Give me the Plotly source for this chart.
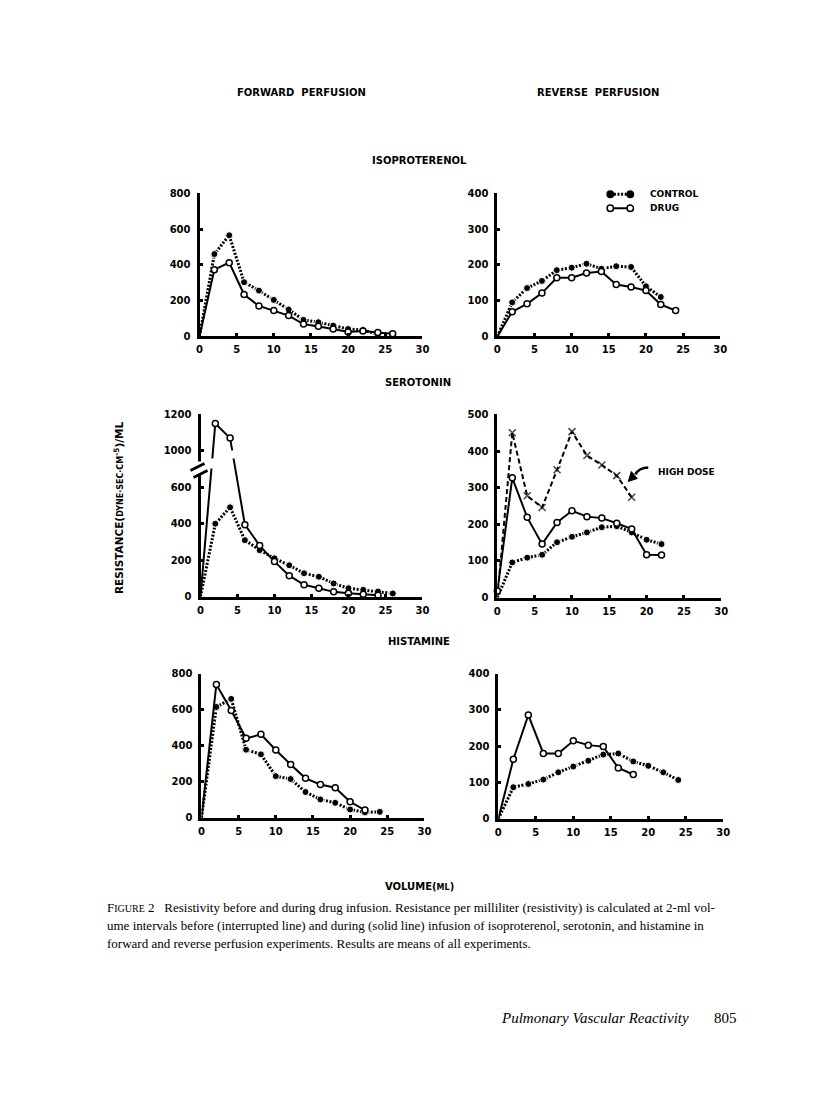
import plotly.graph_objects as go

# The page body has an 8px margin; the figure is kept small enough that the
# page never overflows the window. Positions below are given in the
# reference's pixel coordinates and mapped to the page with a small
# calibration (measured from earlier renders).
PAGE_OFF = 8
W, H = 800, 1076
CAL_A, CAL_BX, CAL_BY = 0.988, 1.5, 6.0

# ---------------- data ----------------
vol_iso_fwd_ctrl = [0, 2, 4, 6, 8, 10, 12, 14, 16, 18, 20, 22, 24]
iso_fwd_ctrl = [0, 460, 565, 303, 256, 204, 150, 92, 79, 60, 41, 35, 12]
vol_iso_fwd_drug = [0, 2, 4, 6, 8, 10, 12, 14, 16, 18, 20, 22, 24, 26]
iso_fwd_drug = [0, 373, 412, 234, 170, 144, 116, 69, 56, 41, 25, 30, 22, 15]

vol_iso_rev_ctrl = [0, 2, 4, 6, 8, 10, 12, 14, 16, 18, 20, 22]
iso_rev_ctrl = [0, 95, 135, 155, 185, 192, 203, 189, 196, 194, 140, 110]
vol_iso_rev_drug = [0, 2, 4, 6, 8, 10, 12, 14, 16, 18, 20, 22, 24]
iso_rev_drug = [0, 69, 91, 121, 164, 164, 177, 181, 145, 138, 128, 89, 72]

vol_ser_fwd_ctrl = [0, 2, 4, 6, 8, 10, 12, 14, 16, 18, 20, 22, 24, 26]
ser_fwd_ctrl = [0, 400, 490, 310, 255, 210, 172, 128, 109, 72, 46, 37, 28, 17]
vol_ser_fwd_drug = [0, 2, 4, 6, 8, 10, 12, 14, 16, 18, 20, 22, 24]
ser_fwd_drug = [0, 1150, 1070, 395, 280, 192, 115, 65, 46, 26, 19, 13, 7]

vol_ser_rev_ctrl = [0, 2, 4, 6, 8, 10, 12, 14, 16, 18, 20, 22]
ser_rev_ctrl = [0, 96, 109, 117, 151, 166, 178, 192, 195, 178, 158, 146]
vol_ser_rev_drug = [0, 2, 4, 6, 8, 10, 12, 14, 16, 18, 20, 22]
ser_rev_drug = [18, 327, 219, 146, 205, 237, 221, 217, 203, 187, 117, 116]
vol_ser_rev_high = [0, 2, 4, 6, 8, 10, 12, 14, 16, 18]
ser_rev_high = [0, 450, 278, 246, 349, 453, 388, 362, 333, 274]

vol_his_fwd_ctrl = [0, 2, 4, 6, 8, 10, 12, 14, 16, 18, 20, 22, 24]
his_fwd_ctrl = [0, 615, 660, 378, 352, 231, 215, 143, 102, 83, 46, 30, 33]
vol_his_fwd_drug = [0, 2, 4, 6, 8, 10, 12, 14, 16, 18, 20, 22]
his_fwd_drug = [0, 740, 595, 441, 463, 376, 296, 219, 185, 167, 89, 43]

vol_his_rev_ctrl = [0, 2, 4, 6, 8, 10, 12, 14, 16, 18, 20, 22, 24]
his_rev_ctrl = [0, 87, 96, 108, 128, 144, 160, 177, 180, 158, 146, 128, 107]
vol_his_rev_drug = [0, 2, 4, 6, 8, 10, 12, 14, 16, 18]
his_rev_drug = [0, 164, 286, 180, 180, 215, 203, 199, 140, 122]

x_ticks = [0, 5, 10, 15, 20, 25, 30]
y_ticks_800 = [0, 200, 400, 600, 800]
y_ticks_400 = [0, 100, 200, 300, 400]
y_ticks_500 = [0, 100, 200, 300, 400, 500]
ser_fwd_tickvals = [0, 200, 400, 600, 800, 1000]
ser_fwd_ticktext = ["0", "200", "400", "600", "1000", "1200"]
BREAK_SHIFT = 200  # values above the axis break are drawn 200 lower


def broken(v):
    return [y - BREAK_SHIFT if y > 800 else y for y in v]


# ---------------- layout helpers ----------------
def fx(x):
    page = (x - CAL_BX) / CAL_A
    return (page - PAGE_OFF) / W


def fy(y):
    page = (y - CAL_BY) / CAL_A
    return 1 - (page - PAGE_OFF) / H


# panel pixel boxes: (x at 0, x at 30, y at 0, y at top)
panels = [
    (198, 421, 336, 193, 800, y_ticks_800, None),
    (496, 719, 336, 193, 400, y_ticks_400, None),
    (199, 421, 596, 414, 1000, ser_fwd_tickvals, ser_fwd_ticktext),
    (496, 720, 597, 414, 500, y_ticks_500, None),
    (200, 423, 817, 673, 800, y_ticks_800, None),
    (497, 722, 818, 673, 400, y_ticks_400, None),
]

fig = go.Figure()
tickfont = dict(family="DejaVu Sans", size=10, color="black", weight="bold")
layout = dict()
for i, (x0, x1, y0, y1, ymax, yt, ytt) in enumerate(panels, start=1):
    sx = "" if i == 1 else str(i)
    layout["xaxis" + sx] = dict(
        domain=[fx(x0), fx(x1)], range=[0, 30], anchor="y" + sx,
        showline=True, linewidth=3, linecolor="black", showgrid=False, zeroline=False,
        tickvals=x_ticks, ticks="inside", ticklen=3, tickwidth=3, tickcolor="black",
        tickfont=tickfont, ticklabelstandoff=2,
    )
    ydict = dict(
        domain=[fy(y0), fy(y1)], range=[0, ymax], anchor="x" + sx,
        showline=True, linewidth=3, linecolor="black", showgrid=False, zeroline=False,
        tickvals=yt, ticks="inside", ticklen=3, tickwidth=3, tickcolor="black",
        tickfont=tickfont, ticklabelstandoff=4,
    )
    if ytt is not None:
        ydict["ticktext"] = ytt
    layout["yaxis" + sx] = ydict


def add(i, xs, ys, kind):
    sx = "" if i == 1 else str(i)
    sizes = [6] * len(xs)
    if ys[0] == 0:
        sizes[0] = 0
    if kind == "ctrl":
        line = dict(color="black", width=3, dash="2px,1.6px")
        marker = dict(symbol="circle", size=[s + 1 if s else 0 for s in sizes], color="black",
                      opacity=1)
    elif kind == "drug":
        line = dict(color="black", width=2)
        marker = dict(symbol="circle", size=sizes, color="#ffffff", opacity=1,
                      line=dict(color="black", width=1.5))
    else:
        line = dict(color="black", width=2, dash="5px,3px")
        marker = dict(symbol="x-thin", size=[0] + [7] * (len(xs) - 1),
                      line=dict(color="black", width=1.6))
    fig.add_trace(go.Scatter(x=xs, y=ys, mode="lines+markers", line=line, marker=marker,
                             xaxis="x" + sx, yaxis="y" + sx, cliponaxis=False,
                             showlegend=False, hoverinfo="skip"))


add(1, vol_iso_fwd_ctrl, iso_fwd_ctrl, "ctrl")
add(1, vol_iso_fwd_drug, iso_fwd_drug, "drug")
add(2, vol_iso_rev_ctrl, iso_rev_ctrl, "ctrl")
add(2, vol_iso_rev_drug, iso_rev_drug, "drug")
add(3, vol_ser_fwd_ctrl, broken(ser_fwd_ctrl), "ctrl")
add(3, vol_ser_fwd_drug, broken(ser_fwd_drug), "drug")
add(4, vol_ser_rev_high, ser_rev_high, "high")
add(4, vol_ser_rev_ctrl, ser_rev_ctrl, "ctrl")
add(4, vol_ser_rev_drug, ser_rev_drug, "drug")
add(5, vol_his_fwd_ctrl, his_fwd_ctrl, "ctrl")
add(5, vol_his_fwd_drug, his_fwd_drug, "drug")
add(6, vol_his_rev_ctrl, his_rev_ctrl, "ctrl")
add(6, vol_his_rev_drug, his_rev_drug, "drug")

# ---------------- text ----------------
hdr = dict(family="DejaVu Sans", size=10, color="black", weight="bold")
ann = []


def text(x, y, t, font, xanchor="center", **kw):
    ann.append(dict(x=fx(x), y=fy(y), xref="paper", yref="paper", text=t,
                    showarrow=False, font=font, xanchor=xanchor, yanchor="middle", **kw))


text(300, 92, "FORWARD  PERFUSION", hdr)
text(597, 92, "REVERSE  PERFUSION", hdr)
text(418, 160, "ISOPROTERENOL", hdr)
text(417, 382, "SEROTONIN", hdr)
text(418, 641, "HISTAMINE", hdr)
text(418, 886, "VOLUME(<span style='font-size:8px'>ML</span>)", hdr)
text(117, 507, "RESISTANCE(<span style='font-size:8px'>DYNE·SEC·CM</span><sup>-5</sup>)/ML",
     dict(family="DejaVu Sans", size=10.5, color="black", weight="bold"), textangle=-90)

legfont = dict(family="DejaVu Sans", size=9, color="black", weight="bold")
text(647, 194, "CONTROL", legfont, xanchor="left")
text(647, 208, "DRUG", legfont, xanchor="left")
text(655, 472, "HIGH DOSE", legfont, xanchor="left")

cap = dict(family="Liberation Serif", size=13, color="black")
cap_lines = [
    "F<span style='font-size:10px'>IGURE</span> 2   Resistivity before and during drug infusion. "
    "Resistance per milliliter (resistivity) is calculated at 2-ml vol-",
    "ume intervals before (interrupted line) and during (solid line) infusion of isoproterenol, "
    "serotonin, and histamine in",
    "forward and reverse perfusion experiments. Results are means of all experiments.",
]
for k, ln in enumerate(cap_lines):
    text(103, 907 + 18 * k, ln, cap, xanchor="left")

text(690, 1017, "<i>Pulmonary Vascular Reactivity</i>",
     dict(family="Liberation Serif", size=15, color="black"), xanchor="right")
text(738, 1017, "805", dict(family="Liberation Serif", size=15, color="black"), xanchor="right")

# ---------------- legend samples, arrow & axis break ----------------
shapes = []


def pline(x0, y0, x1, y1, width=2, dash="solid", color="black"):
    shapes.append(dict(type="line", xref="paper", yref="paper", x0=fx(x0), y0=fy(y0),
                       x1=fx(x1), y1=fy(y1), line=dict(color=color, width=width, dash=dash),
                       layer="above"))


def pdot(x, y, r=3.2, fill="black"):
    shapes.append(dict(type="circle", xref="paper", yref="paper", x0=fx(x - r), x1=fx(x + r),
                       y0=fy(y + r), y1=fy(y - r), fillcolor=fill,
                       line=dict(color="black", width=1.5), layer="above"))


def prect(x0, y0, x1, y1):
    shapes.append(dict(type="rect", xref="paper", yref="paper", x0=fx(x0), x1=fx(x1),
                       y0=fy(y1), y1=fy(y0), fillcolor="white", line=dict(width=0),
                       layer="above"))


def ppath(cmds, width=2.5, fill=None):
    parts = []
    for c in cmds:
        if isinstance(c, str):
            parts.append(c)
        else:
            parts.append(f"{fx(c[0]):.5f},{fy(c[1]):.5f}")
    shp = dict(type="path", xref="paper", yref="paper", path=" ".join(parts),
               line=dict(color="black", width=width), layer="above")
    if fill:
        shp["fillcolor"] = fill
    shapes.append(shp)


pline(609, 194, 629, 194, width=3, dash="2px,1.6px")
pdot(609, 194)
pdot(629, 194)
pline(609, 208, 629, 208, width=2)
pdot(609, 208, fill="white")
pdot(629, 208, fill="white")

# curved "HIGH DOSE" pointer
ppath(["M", (647, 467), "Q", (638, 467), (634, 474)], width=2.5)
ppath(["M", (627, 481), "L", (636, 478), "L", (630, 471), "Z"], width=1, fill="black")

# axis break on the serotonin forward panel
prect(194, 461, 205, 474)
prect(205, 458, 214, 468)
prect(226, 450, 235, 458)
pline(189, 470, 203, 463, width=3)
pline(192, 477, 206, 470, width=3)

fig.update_layout(
    width=W, height=H, margin=dict(l=0, r=0, t=0, b=0),
    paper_bgcolor="white", plot_bgcolor="rgba(0,0,0,0)", showlegend=False,
    annotations=ann, shapes=shapes, **layout,
)

fig.write_html("out.html")
